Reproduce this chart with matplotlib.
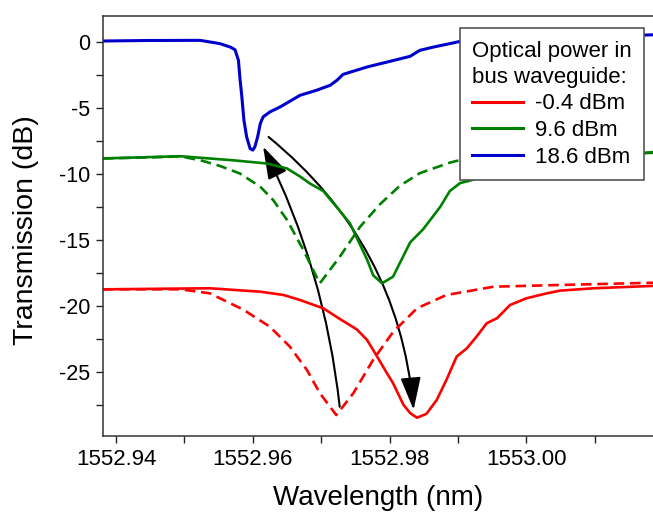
import matplotlib
matplotlib.use("Agg")
import matplotlib.pyplot as plt
from matplotlib.patches import FancyArrowPatch
from matplotlib.ticker import MultipleLocator, FormatStrFormatter

plt.rcParams['font.family'] = ['Liberation Sans', 'DejaVu Sans']
plt.rcParams['axes.unicode_minus'] = False

# 18.6 dBm (blue, solid)
wl_blue = [1552.9381, 1552.9450, 1552.9523, 1552.9552, 1552.9567, 1552.9574, 1552.9579,
           1552.9581, 1552.9584, 1552.9587, 1552.9591, 1552.9596, 1552.9600, 1552.9603,
           1552.9607, 1552.9611, 1552.9615, 1552.9625, 1552.9640, 1552.9669, 1552.9693,
           1552.9713, 1552.9723, 1552.9732, 1552.9767, 1552.9796, 1552.9830, 1552.9844,
           1552.9864, 1552.9888, 1552.9903, 1553.0035, 1553.0185]
tr_blue = [0.08, 0.12, 0.13, -0.12, -0.38, -0.58, -1.39, -2.65, -4.17, -5.93, -7.2,
           -8.08, -8.2, -7.95, -7.2, -6.18, -5.68, -5.3, -4.92, -4.04, -3.66, -3.28, -2.9,
           -2.45, -1.89, -1.52, -1.08, -0.63, -0.38, -0.12, 0.05, 0.3, 0.55]

# 9.6 dBm (green)
wl_green = [1552.9381, 1552.9494, 1552.9571, 1552.9620, 1552.9650, 1552.9669, 1552.9684,
            1552.9703, 1552.9727, 1552.9742, 1552.9757, 1552.9767, 1552.9776, 1552.9789,
            1552.9805, 1552.9830, 1552.9849, 1552.9874, 1552.9888, 1552.9903, 1552.9918,
            1552.9961, 1553.0035, 1553.0108, 1553.0185]
tr_green = [-8.83, -8.66, -8.97, -9.21, -9.59, -10.2, -10.75, -11.3, -12.8, -13.76, -15.4,
            -16.5, -17.7, -18.3, -17.8, -15.2, -14.2, -12.5, -11.3, -10.7, -10.5, -9.8,
            -9.1, -8.7, -8.35]
wl_green_d = [1552.9381, 1552.9450, 1552.9494, 1552.9523, 1552.9552, 1552.9581, 1552.9611,
              1552.9630, 1552.9650, 1552.9674, 1552.9693, 1552.9698, 1552.9727, 1552.9757,
              1552.9786, 1552.9815, 1552.9844, 1552.9888, 1552.9903, 1552.9991, 1553.0108,
              1553.0185]
tr_green_d = [-8.83, -8.75, -8.68, -8.96, -9.4, -9.97, -10.98, -12.0, -13.5, -15.78,
              -17.8, -18.3, -16.3, -14.0, -12.3, -10.9, -9.95, -9.15, -8.95, -8.7, -8.55,
              -8.4]

# -0.4 dBm (red)
wl_red = [1552.9381, 1552.9537, 1552.9611, 1552.9645, 1552.9669, 1552.9703, 1552.9727,
          1552.9752, 1552.9767, 1552.9781, 1552.9796, 1552.9805, 1552.9820, 1552.9830,
          1552.9840, 1552.9854, 1552.9869, 1552.9883, 1552.9898, 1552.9913, 1552.9927,
          1552.9942, 1552.9957, 1552.9976, 1553.0000, 1553.0030, 1553.0049, 1553.0098,
          1553.0185]
tr_red = [-18.76, -18.68, -18.94, -19.19, -19.57, -20.2, -21.0, -21.8, -22.6, -23.8,
          -25.12, -25.88, -27.5, -28.15, -28.5, -28.2, -27.14, -25.63, -23.86, -23.23,
          -22.35, -21.33, -20.95, -19.95, -19.44, -19.06, -18.86, -18.68, -18.5]
wl_red_d = [1552.9381, 1552.9494, 1552.9537, 1552.9586, 1552.9625, 1552.9654, 1552.9679,
            1552.9698, 1552.9722, 1552.9747, 1552.9776, 1552.9805, 1552.9840, 1552.9883,
            1552.9952, 1553.0049, 1553.0185]
tr_red_d = [-18.76, -18.76, -19.06, -20.3, -21.6, -23.1, -24.87, -26.64, -28.3, -26.64,
            -24.1, -22.0, -20.2, -19.19, -18.56, -18.43, -18.26]

labels = ['-0.4 dBm', '9.6 dBm', '18.6 dBm']
c_red = '#ff0000'
c_green = '#008000'
c_blue = '#0000cc'

fig = plt.figure(figsize=(6.53, 5.12), dpi=100)
ax = fig.add_axes([103 / 653, 1 - 435.5 / 512, 550 / 653, (435.5 - 15.7) / 512])

lw = 1.9
dash = (4.0, 2.2)
ax.plot(wl_red, tr_red, color=c_red, lw=lw, label=labels[0])
ax.plot(wl_green, tr_green, color=c_green, lw=lw, label=labels[1])
ax.plot(wl_blue, tr_blue, color=c_blue, lw=2.2, label=labels[2])
ax.plot(wl_red_d, tr_red_d, color=c_red, lw=lw, dashes=dash)
ax.plot(wl_green_d, tr_green_d, color=c_green, lw=lw, dashes=dash)

# curved arrows
arr_style = '-|>,head_length=0.8,head_width=0.25'
a1 = FancyArrowPatch((1552.9727, -27.67), (1552.9615, -7.93),
                     connectionstyle='arc3,rad=0.09', arrowstyle=arr_style,
                     mutation_scale=25, lw=1.5, color='black', shrinkA=0, shrinkB=0)
a2 = FancyArrowPatch((1552.9623, -7.20), (1552.9835, -27.9),
                     connectionstyle='arc3,rad=-0.21', arrowstyle=arr_style,
                     mutation_scale=25, lw=1.5, color='black', shrinkA=0, shrinkB=0)
ax.add_patch(a1)
ax.add_patch(a2)

ax.set_xlim(1552.9381, 1553.0185)
ax.set_ylim(-29.85, 2.0)
ax.xaxis.set_major_locator(MultipleLocator(0.02))
ax.xaxis.set_minor_locator(MultipleLocator(0.01))
ax.yaxis.set_major_locator(MultipleLocator(5))
ax.yaxis.set_minor_locator(MultipleLocator(2.5))
ax.xaxis.set_major_formatter(FormatStrFormatter('%.2f'))
ax.tick_params(which='both', direction='out', length=5, width=1.0, colors='#222222',
               labelcolor='black')
ax.tick_params(axis='x', pad=5, labelsize=16)
ax.tick_params(axis='y', pad=4, labelsize=15.5)
ax.spines['right'].set_visible(False)
for s in ['left', 'top', 'bottom']:
    ax.spines[s].set_linewidth(1.1)
    ax.spines[s].set_color('#333333')

ax.set_xlabel('Wavelength (nm)', fontsize=20)
ax.set_ylabel('Transmission (dB)', fontsize=20.5)
ax.xaxis.set_label_coords(0.5, -0.150)
ax.yaxis.set_label_coords(-0.14, 0.489)
ax.xaxis.label.set_va('center')
ax.yaxis.label.set_va('center')

leg = ax.legend(title='Optical power in\nbus waveguide:', loc='upper right',
                bbox_to_anchor=(644 / 653, 1 - 28.5 / 512), bbox_transform=fig.transFigure,
                fontsize=16, title_fontsize=16, frameon=True, fancybox=False,
                edgecolor='#555555', framealpha=1, handlelength=2.3, handletextpad=0.55,
                labelspacing=0.26, borderpad=0.55, borderaxespad=0, alignment='left')
leg.get_frame().set_linewidth(1.2)
leg.get_title().set_linespacing(1.3)
for ln in leg.get_lines():
    ln.set_linewidth(2.2)

fig.savefig('out.png', dpi=100)
